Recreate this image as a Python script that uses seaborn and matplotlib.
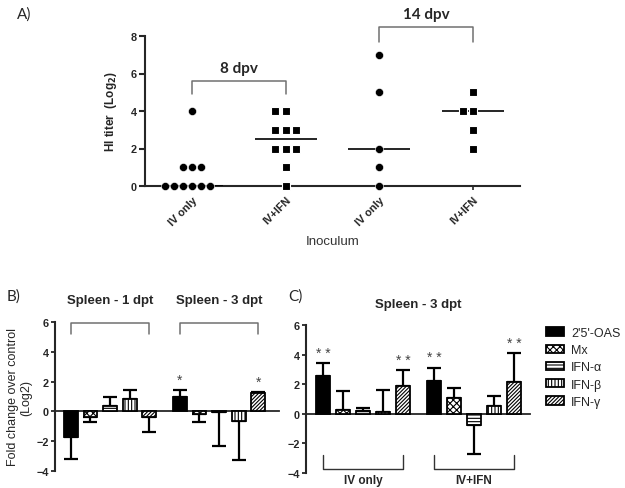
import numpy as np
import pandas as pd
import matplotlib
matplotlib.use("Agg")
import matplotlib.pyplot as plt
import seaborn as sns
from matplotlib.patches import Patch

# ---------------- data ----------------
# Panel A: HI titer (log2)
a_labels = ["IV only", "IV+IFN", "IV only", "IV+IFN"]
a_times = ["8 dpv", "14 dpv"]
a_iv8 = [0, 0, 0, 0, 0, 0, 1, 1, 1, 4]
a_ifn8 = [0, 1, 2, 2, 2, 3, 3, 3, 4, 4]
a_iv14 = [0, 1, 2, 5, 7]
a_ifn14 = [2, 3, 4, 4, 5]

# Panels B / C: fold change over control (log2)
genes = ["2'5'-OAS", "Mx", "IFN-α", "IFN-β", "IFN-γ"]
b_groups = ["Spleen - 1 dpt", "Spleen - 3 dpt"]
b_1dpt = [-1.7, -0.4, 0.35, 0.85, -0.35]
b_1dpt_err = [-3.2, -0.68, 0.97, 1.42, -1.4]
b_3dpt = [1.0, -0.15, -0.03, -0.62, 1.22]
b_3dpt_err = [1.44, -0.68, -2.33, -3.27, 1.32]
b_stars_1dpt = ["", "", "", "", ""]
b_stars_3dpt = ["*", "", "", "", "*"]

c_title = "Spleen - 3 dpt"
c_groups = ["IV only", "IV+IFN"]
c_iv = [2.58, 0.27, 0.22, 0.13, 1.9]
c_iv_err = [3.4, 1.53, 0.38, 1.6, 2.94]
c_ifn = [2.22, 1.08, -0.79, 0.54, 2.13]
c_ifn_err = [3.12, 1.73, -2.74, 1.19, 4.09]
c_stars_iv = ["* *", "", "", "", "* *"]
c_stars_ifn = ["* *", "", "", "", "* *"]

# ---------------- style ----------------
sns.set_theme(style="ticks")
plt.rcParams["font.family"] = ["Liberation Sans", "DejaVu Sans"]
plt.rcParams["hatch.linewidth"] = 0.8
plt.rcParams["axes.linewidth"] = 1.5

gene_fill = {"2'5'-OAS": "black", "Mx": "white", "IFN-α": "white",
             "IFN-β": "white", "IFN-γ": "white"}
gene_hatch = {"2'5'-OAS": "", "Mx": "xxxxx", "IFN-α": "-----",
              "IFN-β": "|||||", "IFN-γ": "/////////"}
GRAY = "#707070"

W, H = 625, 489
fig = plt.figure(figsize=(W / 100, H / 100), dpi=100)


def frac(x0, y_top, x1, y_bot):
    return [x0 / W, 1 - y_bot / H, (x1 - x0) / W, (y_bot - y_top) / H]


# ---------------- Panel A ----------------
axA = fig.add_axes(frac(145, 37, 520, 187))
order = ["g0", "g1", "g2", "g3"]
dfA = pd.DataFrame({
    "grp": ["g0"] * len(a_iv8) + ["g1"] * len(a_ifn8)
           + ["g2"] * len(a_iv14) + ["g3"] * len(a_ifn14),
    "titer": a_iv8 + a_ifn8 + a_iv14 + a_ifn14,
})
circ = dfA[dfA["grp"].isin(["g0", "g2"])]
sqr = dfA[dfA["grp"].isin(["g1", "g3"])]
sns.swarmplot(data=circ, x="grp", y="titer", order=order, marker="o",
              color="black", size=5.8, ax=axA, clip_on=False, zorder=5,
              edgecolor="white", linewidth=0.4)
sns.swarmplot(data=sqr, x="grp", y="titer", order=order, marker="s",
              color="black", size=6.4, ax=axA, clip_on=False, zorder=5,
              edgecolor="white", linewidth=0.8)
for i, arr in enumerate([a_iv8, a_ifn8, a_iv14, a_ifn14]):
    axA.hlines(np.median(arr), i - 0.33, i + 0.33, color="black", lw=1.2, zorder=4)

axA.set_xlim(-0.5, 3.5)
axA.set_ylim(0, 8)
axA.set_yticks([0, 2, 4, 6, 8])
axA.set_xticks(range(4))
axA.set_xticklabels(a_labels, rotation=45, ha="right", rotation_mode="anchor",
                    fontweight="bold", fontsize=7.8, color="#222222")
for t in axA.get_yticklabels():
    t.set_fontweight("bold")
    t.set_fontsize(7.8)
axA.tick_params(axis="y", length=4, width=1.5, pad=2)
axA.tick_params(axis="x", length=3, width=1.2, pad=3)
axA.set_xlabel("Inoculum", fontsize=9.5, color="#333333", labelpad=6)
axA.set_ylabel(r"HI titer  (Log$_\mathbf{2}$)", fontsize=8.5, fontweight="bold",
               labelpad=8)
sns.despine(ax=axA)

# brackets
axA.plot([0, 0, 1, 1], [4.9, 5.6, 5.6, 4.9], color=GRAY, lw=1.1, clip_on=False)
axA.text(0.5, 6.3, a_times[0], ha="center", va="center", fontsize=11,
         fontweight="bold", family=["Lato", "DejaVu Sans"])
axA.plot([2, 2, 3, 3], [7.7, 8.5, 8.5, 7.7], color=GRAY, lw=1.1, clip_on=False)
axA.text(2.5, 9.2, a_times[1], ha="center", va="center", fontsize=11,
         fontweight="bold", family=["Lato", "DejaVu Sans"])


# ---------------- bar panels ----------------
def bar_panel(ax, groups, vals_list, errs_list, stars_list, xlim, star_base):
    df = pd.DataFrame({
        "grp": sum([[g] * len(genes) for g in groups], []),
        "gene": genes * len(groups),
        "val": sum([list(v) for v in vals_list], []),
    })
    sns.barplot(data=df, x="grp", y="val", hue="gene", order=groups,
                hue_order=genes, palette=gene_fill, width=0.9, gap=0.3,
                errorbar=None, legend=False, edgecolor="black",
                linewidth=1.3, ax=ax, zorder=3)
    centers = {}
    bar_conts = list(ax.containers)
    for gi_gene, cont in enumerate(bar_conts):
        gene = genes[gi_gene]
        for gi, bar in enumerate(cont):
            bar.set_hatch(gene_hatch[gene])
            x = bar.get_x() + bar.get_width() / 2
            centers[(gi, gi_gene)] = x
            v = vals_list[gi][gi_gene]
            e = errs_list[gi][gi_gene]
            if e >= v:
                yerr = [[0], [e - v]]
            else:
                yerr = [[v - e], [0]]
            ax.errorbar([x], [v], yerr=yerr, fmt="none", ecolor="black",
                        elinewidth=1.6, capsize=5, capthick=1.6, zorder=2)
            s = stars_list[gi][gi_gene]
            if s:
                ax.text(x, max(e, 0) + star_base, s, ha="center", va="center",
                        fontsize=10, color="#444444")
    ax.set_xlim(*xlim)
    ax.set_ylim(-4, 6)
    ax.set_yticks([-4, -2, 0, 2, 4, 6])
    ax.spines["bottom"].set_position(("data", 0))
    ax.spines["bottom"].set_linewidth(1.3)
    ax.tick_params(axis="x", length=0, labelbottom=False)
    ax.tick_params(axis="y", length=3, width=1.3, pad=1.5)
    for t in ax.get_yticklabels():
        t.set_fontweight("bold")
        t.set_fontsize(7.8)
    ax.set_xlabel("")
    ax.set_ylabel("")
    sns.despine(ax=ax)
    return centers


axB = fig.add_axes(frac(55, 323, 279, 472))
cB = bar_panel(axB, b_groups, [b_1dpt, b_3dpt], [b_1dpt_err, b_3dpt_err],
               [b_stars_1dpt, b_stars_3dpt], (-0.505, 1.55), 0.65)
for gi, g in enumerate(b_groups):
    x0, x1 = cB[(gi, 0)], cB[(gi, len(genes) - 1)]
    axB.plot([x0, x0, x1, x1], [5.2, 5.95, 5.95, 5.2], color=GRAY, lw=1.1,
             clip_on=False)
    axB.text((x0 + x1) / 2, 7.45, g, ha="center", va="center", fontsize=9.5,
             fontweight="bold")
axB.set_ylabel("Fold change over control\n(Log2)", fontsize=9, labelpad=3,
               linespacing=1.1)

axC = fig.add_axes(frac(306, 326, 530, 474))
cC = bar_panel(axC, c_groups, [c_iv, c_ifn], [c_iv_err, c_ifn_err],
               [c_stars_iv, c_stars_ifn], (-0.514, 1.505), 0.7)
for gi, g in enumerate(c_groups):
    x0, x1 = cC[(gi, 0)], cC[(gi, len(genes) - 1)]
    axC.plot([x0, x0, x1, x1], [-2.76, -3.7, -3.7, -2.76], color="#333333",
             lw=1.0, clip_on=False)
    axC.text((x0 + x1) / 2, -4.5, g, ha="center", va="center", fontsize=8.5,
             fontweight="bold", clip_on=False)
axC.text(0.5, 7.45, c_title, transform=axC.transData,
         ha="center", va="center", fontsize=9.5, fontweight="bold")

handles = [Patch(facecolor=gene_fill[g], edgecolor="black", hatch=gene_hatch[g],
                 linewidth=1.3, label=g) for g in genes]
fig.legend(handles=handles, loc="upper left",
           bbox_to_anchor=(546 / W, 1 - 328 / H), frameon=False, fontsize=9,
           handlelength=1.45, handleheight=0.64, handletextpad=0.55,
           labelspacing=0.42, borderaxespad=0, borderpad=0)

# panel letters
for lab, x, y in [("A)", 24, 15), ("B)", 14, 297), ("C)", 295, 297)]:
    fig.text(x / W, 1 - y / H, lab, ha="center", va="center", fontsize=11,
             family=["Lato", "DejaVu Sans"])

fig.savefig("out.png", dpi=100)
